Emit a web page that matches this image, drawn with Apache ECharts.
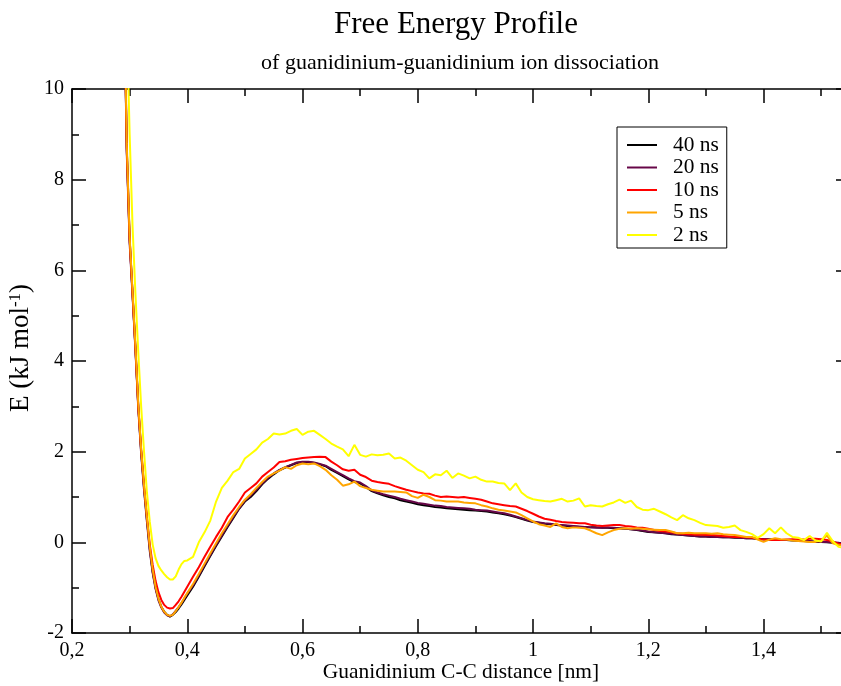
<!DOCTYPE html>
<html><head><meta charset="utf-8">
<script src="https://cdn.jsdelivr.net/npm/echarts@6/dist/echarts.min.js"></script>
<style>html,body{margin:0;padding:0;background:#fff}#c{width:841px;height:686px}</style>
</head><body><div id="c"></div>
<script>
const distance = [0.29,0.295,0.3,0.305,0.31,0.315,0.32,0.325,0.33,0.335,0.34,0.345,0.35,0.355,0.36,0.365,0.37,0.375,0.38,0.385,0.39,0.395,0.4,
0.41,0.42,0.43,0.44,0.45,0.46,0.47,0.48,0.49,0.5,
0.51,0.52,0.53,0.54,0.55,0.56,0.57,0.58,0.59,0.6,
0.61,0.62,0.63,0.64,0.65,0.66,0.67,0.68,0.69,0.7,
0.71,0.72,0.73,0.74,0.75,0.76,0.77,0.78,0.79,0.8,
0.81,0.82,0.83,0.84,0.85,0.86,0.87,0.88,0.89,0.9,
0.91,0.92,0.93,0.94,0.95,0.96,0.97,0.98,0.99,1.0,
1.01,1.02,1.03,1.04,1.05,1.06,1.07,1.08,1.09,1.1,
1.11,1.12,1.13,1.14,1.15,1.16,1.17,1.18,1.19,1.2,
1.21,1.22,1.23,1.24,1.25,1.26,1.27,1.28,1.29,1.3,
1.31,1.32,1.33,1.34,1.35,1.36,1.37,1.38,1.39,1.4,
1.41,1.42,1.43,1.44,1.45,1.46,1.47,1.48,1.49,1.5,
1.51,1.52,1.53,1.54];

const e40ns = [12.5,8.7,6.7,5.5,4.3,3.0,2.0,1.2,0.5,-0.15,-0.65,-1.0,-1.25,-1.42,-1.53,-1.6,-1.64,-1.6,-1.54,-1.46,-1.37,-1.27,-1.17,
-0.98,-0.76,-0.53,-0.3,-0.08,0.13,0.34,0.54,0.74,0.9,
1.0,1.13,1.28,1.4,1.5,1.59,1.65,1.7,1.75,1.77,
1.77,1.75,1.72,1.68,1.6,1.53,1.46,1.39,1.33,1.3,
1.22,1.13,1.08,1.04,1.0,0.97,0.93,0.9,0.87,0.84,
0.82,0.8,0.78,0.77,0.75,0.74,0.73,0.72,0.71,0.7,
0.69,0.68,0.66,0.64,0.62,0.59,0.56,0.52,0.48,0.45,
0.43,0.41,0.4,0.38,0.37,0.36,0.35,0.34,0.34,0.33,
0.33,0.32,0.32,0.31,0.31,0.3,0.29,0.27,0.25,0.23,
0.22,0.21,0.2,0.18,0.17,0.16,0.15,0.14,0.13,0.13,
0.12,0.12,0.11,0.11,0.1,0.1,0.09,0.09,0.08,0.07,
0.06,0.06,0.05,0.05,0.04,0.04,0.03,0.02,0.01,0.01,
0.0,-0.01,-0.02,-0.04];

const e20ns = [12.4,8.6,6.6,5.45,4.25,2.95,1.95,1.15,0.45,-0.2,-0.68,-1.03,-1.28,-1.44,-1.55,-1.61,-1.63,-1.59,-1.51,-1.43,-1.34,-1.24,-1.13,
-0.95,-0.73,-0.5,-0.28,-0.06,0.15,0.36,0.56,0.75,0.92,
1.03,1.16,1.3,1.42,1.52,1.6,1.66,1.71,1.76,1.78,
1.78,1.76,1.73,1.69,1.62,1.55,1.48,1.41,1.35,1.32,
1.24,1.15,1.1,1.06,1.03,1.0,0.96,0.93,0.9,0.87,
0.85,0.83,0.81,0.8,0.78,0.77,0.76,0.75,0.74,0.72,
0.71,0.7,0.68,0.66,0.64,0.61,0.57,0.53,0.49,0.46,
0.44,0.42,0.41,0.39,0.38,0.37,0.36,0.35,0.34,0.33,
0.32,0.32,0.33,0.32,0.31,0.3,0.29,0.28,0.26,0.24,
0.22,0.21,0.2,0.19,0.17,0.16,0.15,0.14,0.13,0.13,
0.12,0.12,0.11,0.12,0.11,0.1,0.09,0.09,0.08,0.07,
0.07,0.06,0.05,0.05,0.05,0.04,0.03,0.03,0.02,0.01,
0.01,0.0,-0.01,-0.03];

const e10ns = [12.5,8.7,6.7,5.5,4.3,3.0,2.05,1.25,0.57,-0.05,-0.5,-0.85,-1.1,-1.27,-1.38,-1.44,-1.46,-1.45,-1.38,-1.3,-1.2,-1.09,-0.98,
-0.76,-0.55,-0.32,-0.1,0.12,0.32,0.56,0.72,0.9,1.1,
1.2,1.3,1.45,1.55,1.65,1.77,1.79,1.82,1.84,1.86,
1.87,1.88,1.89,1.88,1.78,1.7,1.61,1.58,1.6,1.49,
1.44,1.36,1.33,1.31,1.29,1.24,1.2,1.16,1.13,1.1,
1.08,1.07,1.03,1.0,1.01,1.0,0.99,1.0,0.98,0.96,
0.94,0.9,0.86,0.84,0.82,0.8,0.79,0.74,0.69,0.63,
0.57,0.52,0.5,0.47,0.45,0.44,0.43,0.42,0.42,0.39,
0.37,0.36,0.37,0.38,0.38,0.36,0.35,0.33,0.32,0.3,
0.27,0.25,0.24,0.22,0.2,0.19,0.18,0.17,0.17,0.16,
0.16,0.15,0.14,0.13,0.12,0.12,0.11,0.1,0.08,0.06,
0.05,0.05,0.05,0.06,0.07,0.06,0.06,0.08,0.08,0.07,
0.05,0.02,-0.03,-0.05];

const e5ns = [12.6,8.8,6.75,5.55,4.35,3.05,2.05,1.25,0.55,-0.1,-0.6,-0.98,-1.24,-1.42,-1.53,-1.6,-1.62,-1.6,-1.52,-1.43,-1.33,-1.22,-1.12,
-0.92,-0.7,-0.47,-0.24,-0.02,0.2,0.4,0.6,0.78,0.94,
1.06,1.2,1.33,1.45,1.52,1.58,1.66,1.62,1.7,1.74,
1.72,1.74,1.68,1.6,1.48,1.38,1.25,1.28,1.34,1.24,
1.2,1.16,1.14,1.12,1.12,1.12,1.11,1.1,1.02,0.98,
1.05,1.0,0.93,0.92,0.9,0.9,0.9,0.88,0.87,0.86,
0.82,0.79,0.75,0.72,0.7,0.68,0.66,0.6,0.53,0.46,
0.4,0.37,0.34,0.42,0.34,0.31,0.33,0.32,0.31,0.26,
0.2,0.16,0.22,0.27,0.3,0.31,0.3,0.31,0.3,0.29,
0.28,0.27,0.27,0.24,0.2,0.2,0.21,0.2,0.2,0.2,
0.19,0.2,0.18,0.17,0.16,0.14,0.12,0.12,0.06,0.01,
0.06,0.09,0.07,0.06,0.04,0.03,0.02,0.01,0.01,0.04,
0.15,-0.02,-0.06,-0.07];

const e2ns = [15,11.6,9.0,7.0,5.5,4.2,3.0,2.0,1.1,0.45,-0.05,-0.35,-0.52,-0.62,-0.7,-0.77,-0.82,-0.82,-0.75,-0.6,-0.48,-0.41,-0.4,
-0.32,0.0,0.22,0.48,0.9,1.2,1.36,1.55,1.62,1.85,
1.95,2.05,2.2,2.28,2.4,2.38,2.4,2.46,2.5,2.37,
2.44,2.46,2.37,2.28,2.18,2.11,2.05,1.9,2.15,1.93,
1.89,1.94,1.92,1.93,1.96,1.85,1.87,1.8,1.7,1.6,
1.55,1.41,1.5,1.48,1.58,1.42,1.52,1.47,1.41,1.45,
1.38,1.34,1.34,1.31,1.3,1.15,1.3,1.1,1.0,0.95,
0.93,0.91,0.9,0.93,0.96,0.9,0.92,0.97,0.79,0.82,
0.8,0.79,0.84,0.88,0.94,0.87,0.92,0.78,0.72,0.71,
0.74,0.68,0.62,0.55,0.49,0.6,0.53,0.49,0.43,0.38,
0.37,0.36,0.32,0.34,0.37,0.27,0.23,0.18,0.1,0.18,
0.31,0.2,0.33,0.2,0.12,0.1,0.05,0.14,0.04,0.02,
0.21,0.03,-0.1,-0.12];

const seriesNames = ['40 ns','20 ns','10 ns','5 ns','2 ns'];
const seriesValues = [e40ns, e20ns, e10ns, e5ns, e2ns];
const seriesColors = ['#000000','#670748','#ff0000','#ffa500','#ffff00'];

const FONT = '"Liberation Serif", "Times New Roman", serif';
const AXC = '#000';

function xLabel(v){
  if (Math.abs(v*5 - Math.round(v*5)) > 1e-6) return '';
  return String(Math.round(v*10)/10).replace('.', ',');
}

const xBase = { type:'value', min:0.2, max:1.55, gridIndex:0, splitLine:{show:false} };
const axisLineStyle = { color:AXC, width:1.5 };

const chart = echarts.init(document.getElementById('c'), null, {renderer:'canvas'});
chart.setOption({
  animation:false,
  backgroundColor:'#fff',
  title:[
    { text:'Free Energy Profile', left:451, top:4, textAlign:'center',
      textStyle:{fontFamily:FONT, fontSize:31, fontWeight:'normal', color:'#000'} },
    { text:'of guanidinium-guanidinium ion dissociation', left:455, top:47, textAlign:'center',
      textStyle:{fontFamily:FONT, fontSize:22, fontWeight:'normal', color:'#000'} }
  ],
  legend:{
    data:seriesNames, orient:'vertical', left:617, top:127,
    backgroundColor:'#fff', borderColor:'#000', borderWidth:1, borderRadius:0,
    padding:[7,8,2,10], itemGap:0.5, itemWidth:30, itemHeight:2, icon:'rect',
    textStyle:{fontFamily:FONT, fontSize:21.4, color:'#000', lineHeight:22, padding:[0,0,0,11]}
  },
  grid:{ left:72, top:89, width:778, height:544, containLabel:false, outerBoundsMode:'none' },
  xAxis:[
    Object.assign({}, xBase, { position:'bottom', interval:0.2,
      axisLine:{show:true, onZero:false, lineStyle:axisLineStyle},
      axisTick:{show:true, inside:true, length:14, lineStyle:axisLineStyle},
      axisLabel:{show:true, formatter:xLabel, fontFamily:FONT, fontSize:20, color:'#000', margin:8},
      name:'Guanidinium C-C distance [nm]', nameLocation:'middle', nameGap:29, nameMoveOverlap:false,
      nameTextStyle:{fontFamily:FONT, fontSize:21.4, color:'#000'} }),
    Object.assign({}, xBase, { position:'bottom', interval:0.1,
      axisLine:{show:false, onZero:false},
      axisTick:{show:true, inside:true, length:7, lineStyle:axisLineStyle},
      axisLabel:{show:false} }),
    Object.assign({}, xBase, { position:'top', interval:0.2,
      axisLine:{show:true, onZero:false, lineStyle:axisLineStyle},
      axisTick:{show:true, inside:true, length:14, lineStyle:axisLineStyle},
      axisLabel:{show:false} }),
    Object.assign({}, xBase, { position:'top', interval:0.1,
      axisLine:{show:false, onZero:false},
      axisTick:{show:true, inside:true, length:7, lineStyle:axisLineStyle},
      axisLabel:{show:false} })
  ],
  yAxis:[
    { type:'value', min:-2, max:10, interval:2, position:'left',
      axisLine:{show:true, onZero:false, lineStyle:axisLineStyle},
      axisTick:{show:true, inside:true, length:14, lineStyle:axisLineStyle},
      minorTick:{show:true, splitNumber:2, length:7, lineStyle:axisLineStyle},
      splitLine:{show:false},
      axisLabel:{fontFamily:FONT, fontSize:20, color:'#000', margin:8},
      name:'E (kJ mol{sup|-1})', nameLocation:'middle', nameGap:38, nameRotate:90, nameMoveOverlap:false,
      nameTextStyle:{fontFamily:FONT, fontSize:27, color:'#000', padding:[0,0,0,26],
        rich:{sup:{fontFamily:FONT, fontSize:17, color:'#000', verticalAlign:'top'}}} },
    { type:'value', min:-2, max:10, interval:2, position:'right',
      axisLine:{show:true, onZero:false, lineStyle:axisLineStyle},
      axisTick:{show:true, inside:true, length:14, lineStyle:axisLineStyle},
      minorTick:{show:true, splitNumber:2, length:7, lineStyle:axisLineStyle},
      splitLine:{show:false}, axisLabel:{show:false} }
  ],
  series: seriesNames.map((n,k)=>({
    name:n, type:'line', xAxisIndex:0, yAxisIndex:0,
    data: distance.map((x,i)=>[x, seriesValues[k][i]]),
    showSymbol:false, symbol:'none', smooth:false, clip:true,
    lineStyle:{color:seriesColors[k], width:2}, itemStyle:{color:seriesColors[k]},
    z: 2+k
  }))
});
</script>
</body></html>
